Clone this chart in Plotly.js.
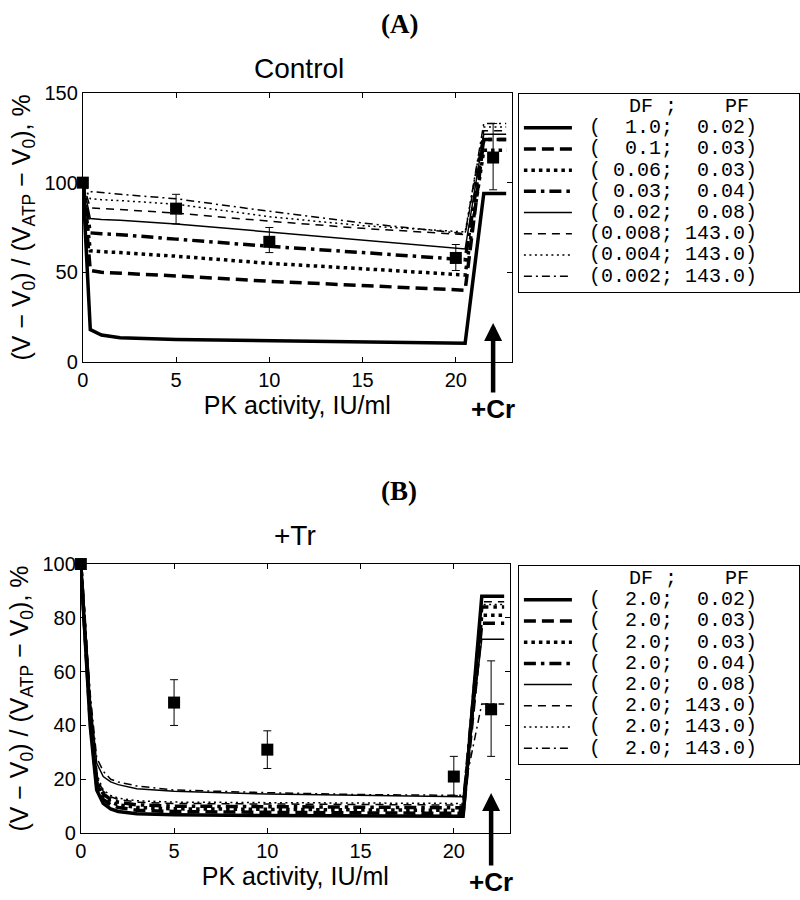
<!DOCTYPE html>
<html><head><meta charset="utf-8">
<script src="https://cdn.plot.ly/plotly-3.0.1.min.js"></script>
<style>html,body{margin:0;padding:0;background:#fff}#chart{width:800px;height:900px}</style>
</head><body><div id="chart"></div>
<script>
// ---------- data: panel A (Control) ----------
const xA = [0, 0.4, 1, 2, 5, 10, 15, 20.5, 21.5, 22.7];
const a1 = [100, 18, 15, 13.5, 12.5, 12, 11.5, 10.5, 94, 94];
const a2 = [100, 51, 50, 49.5, 48, 45, 42.5, 40, 124, 124];
const a3 = [100, 62, 61.5, 61, 59, 55, 52, 48.5, 118, 118];
const a4 = [100, 72, 71.5, 71, 68.5, 64.5, 61, 57, 124, 124];
const a5 = [100, 80, 79.5, 79, 77, 72.5, 68, 63, 127, 127];
const a6 = [100, 86, 85.5, 85, 83, 78.5, 74.5, 71, 129, 129];
const a7 = [100, 91, 90.5, 90, 88, 81, 76, 72.5, 131, 131];
const a8 = [100, 95, 94.5, 93.5, 91, 84, 77.5, 71.5, 133, 133];
const ptsAx = [0, 5, 10, 20, 22];
const ptsAy = [100, 85.5, 67, 58, 114];
const ptsAplus = [0, 8, 8, 7.5, 19];
const ptsAminus = [0, 8.5, 6, 7, 18];
const dfA = ["1.0", "0.1", "0.06", "0.03", "0.02", "0.008", "0.004", "0.002"];
const pfA = ["0.02", "0.03", "0.03", "0.04", "0.08", "143.0", "143.0", "143.0"];

// ---------- data: panel B (+Tr) ----------
const xB = [0, 0.5, 0.85, 1.2, 1.6, 2, 3, 5, 10, 15, 20.5, 21.5, 22.7];
const b1 = [100, 40, 16, 11, 9, 8, 7.2, 6.8, 6.5, 6.3, 6.2, 88, 88];
const b2 = [100, 42, 18, 12.5, 10.5, 9.5, 8.5, 8, 7.7, 7.5, 7.3, 78, 78];
const b3 = [100, 44, 19, 13.5, 11.5, 10.5, 9.5, 9, 8.8, 8.6, 8.4, 81, 81];
const b4 = [100, 45, 20, 14.5, 12.5, 11.5, 10.5, 10, 9.8, 9.6, 9.4, 84, 84];
const b5 = [100, 50, 26, 21, 19, 18, 16.5, 15.5, 14.5, 14, 13.5, 72, 72];
const b6 = [100, 46, 21, 15.5, 13.5, 12.5, 11.5, 11, 10.8, 10.6, 10.4, 86, 86];
const b7 = [100, 47, 22, 16, 14, 13, 12, 11.5, 11.3, 11.1, 11, 85, 85];
const b8 = [100, 52, 28, 23, 20, 19, 17.5, 16, 15, 14.3, 14, 48, 48];
const ptsBx = [0, 5, 10, 20, 22];
const ptsBy = [100, 48.5, 31, 21, 46];
const ptsBplus = [0, 8.5, 7, 7.5, 18];
const ptsBminus = [0, 8.5, 7, 7, 17.5];
const dfB = ["2.0", "2.0", "2.0", "2.0", "2.0", "2.0", "2.0", "2.0"];
const pfB = ["0.02", "0.03", "0.03", "0.04", "0.08", "143.0", "143.0", "143.0"];

const legTitle = "DF ;    PF";
const xTicks = [0, 5, 10, 15, 20];
const yTicksA = [0, 50, 100, 150];
const yTicksB = [0, 20, 40, 60, 80, 100];

// ---------- styles ----------
const styles = [
  {width: 3.5, dash: 'solid'},
  {width: 3.5, dash: '12px,6px'},
  {width: 3.5, dash: '3.5px,4px'},
  {width: 3.5, dash: '12px,5px,3.5px,5px'},
  {width: 1.5, dash: 'solid'},
  {width: 1.5, dash: '8px,6px'},
  {width: 1.5, dash: '2px,3.5px'},
  {width: 1.5, dash: '8px,4px,2px,4px'}
];
const NB = '\u00A0';
const big = s => '<span style="font-size:20px">' + s + '</span>';
const padL = (s, n) => NB.repeat(Math.max(0, n - s.length)) + s;
const label = (df, pf) => big(NB + '(' + padL(df, 5) + ';' + padL(pf, 6) + ')' + NB.repeat(3));
const seriesA = [a1, a2, a3, a4, a5, a6, a7, a8];
const seriesB = [b1, b2, b3, b4, b5, b6, b7, b8];

const traces = [];
seriesA.forEach((ys, i) => traces.push({
  x: xA, y: ys, xaxis: 'x', yaxis: 'y', type: 'scatter', mode: 'lines',
  name: label(dfA[i], pfA[i]), legend: 'legend',
  line: {color: '#000', width: styles[i].width, dash: styles[i].dash}
}));
traces.push({
  x: ptsAx, y: ptsAy, xaxis: 'x', yaxis: 'y', type: 'scatter', mode: 'markers',
  showlegend: false, cliponaxis: false,
  marker: {symbol: 'square', size: 12, color: '#000'},
  error_y: {type: 'data', symmetric: false, array: ptsAplus, arrayminus: ptsAminus,
            color: '#000', thickness: 1, width: 4}
});
seriesB.forEach((ys, i) => traces.push({
  x: xB, y: ys, xaxis: 'x2', yaxis: 'y2', type: 'scatter', mode: 'lines',
  name: label(dfB[i], pfB[i]), legend: 'legend2',
  line: {color: '#000', width: styles[i].width, dash: styles[i].dash}
}));
traces.push({
  x: ptsBx, y: ptsBy, xaxis: 'x2', yaxis: 'y2', type: 'scatter', mode: 'markers',
  showlegend: false, cliponaxis: false,
  marker: {symbol: 'square', size: 12, color: '#000'},
  error_y: {type: 'data', symmetric: false, array: ptsBplus, arrayminus: ptsBminus,
            color: '#000', thickness: 1, width: 4}
});

const SANS = 'Liberation Sans, Arial, sans-serif';
const MONO = 'Liberation Mono, Courier New, monospace';
const SERIF = 'Liberation Serif, Times New Roman, serif';
const tickFont = {family: SANS, size: 20, color: '#000'};
const titleFont = {family: SANS, size: 25, color: '#000'};
const axBase = {
  showline: true, linecolor: '#000', linewidth: 1, mirror: 'ticks',
  ticks: 'inside', ticklen: 5, tickwidth: 1, tickcolor: '#000',
  tickfont: tickFont, showgrid: false, zeroline: false, fixedrange: true
};
const yTitle = '(V \u2212 V<sub>0</sub>) / (V<sub>ATP</sub> \u2212 V<sub>0</sub>), %';

const legBase = {
  xanchor: 'left', yanchor: 'top', bgcolor: '#fff', bordercolor: '#000', borderwidth: 1,
  itemwidth: 48,
  font: {family: MONO, size: 14, color: '#000'},
  title: {text: big(NB.repeat(9) + legTitle.replace(/ /g, NB)), side: 'top',
          font: {family: MONO, size: 14, color: '#000'}},
  traceorder: 'normal', itemclick: false, itemdoubleclick: false
};

const arrowBase = {showarrow: true, arrowhead: 2, arrowsize: 0.8, arrowwidth: 4.5, arrowcolor: '#000',
  standoff: 0, ax: 0, text: '<b>+Cr</b>', font: {family: SANS, size: 26, color: '#000'}};

const layout = {
  width: 800, height: 900, margin: {l: 0, r: 0, t: 0, b: 0},
  paper_bgcolor: '#fff', plot_bgcolor: '#fff', showlegend: true,
  xaxis: Object.assign({}, axBase, {domain: [0.1038, 0.6413], range: [0, 23], tickvals: xTicks, anchor: 'y',
    title: {text: 'PK activity, IU/ml', font: titleFont, standoff: 6}}),
  yaxis: Object.assign({}, axBase, {domain: [0.5978, 0.8967], range: [0, 150], tickvals: yTicksA, anchor: 'x',
    title: {text: yTitle, font: titleFont, standoff: 6}}),
  xaxis2: Object.assign({}, axBase, {domain: [0.1013, 0.6388], range: [0, 23], tickvals: xTicks, anchor: 'y2',
    title: {text: 'PK activity, IU/ml', font: titleFont, standoff: 6}}),
  yaxis2: Object.assign({}, axBase, {domain: [0.0744, 0.3733], range: [0, 100], tickvals: yTicksB, anchor: 'x2',
    title: {text: yTitle, font: titleFont, standoff: 6}}),
  legend: Object.assign({}, legBase, {x: 0.649, y: 0.8967}),
  legend2: Object.assign({}, legBase, {x: 0.649, y: 0.3722}),
  annotations: [
    {xref: 'paper', yref: 'paper', x: 0.5, y: 1 - 24 / 900, yanchor: 'middle', text: '<b>(A)</b>', showarrow: false,
     font: {family: SERIF, size: 27, color: '#000'}},
    {xref: 'paper', yref: 'paper', x: 300 / 800, y: 1 - 68 / 900, yanchor: 'middle', text: 'Control', showarrow: false,
     font: {family: SANS, size: 28, color: '#000'}},
    {xref: 'paper', yref: 'paper', x: 0.5, y: 1 - 491 / 900, yanchor: 'middle', text: '<b>(B)</b>', showarrow: false,
     font: {family: SERIF, size: 27, color: '#000'}},
    {xref: 'paper', yref: 'paper', x: 296 / 800, y: 1 - 535 / 900, yanchor: 'middle', text: '+Tr', showarrow: false,
     font: {family: SANS, size: 28, color: '#000'}},
    Object.assign({}, arrowBase, {xref: 'x', yref: 'y', x: 22, y: 21.8, ay: 86}),
    Object.assign({}, arrowBase, {xref: 'x2', yref: 'y2', x: 22, y: 14.9, ay: 89})
  ]
};

Plotly.newPlot('chart', traces, layout, {displayModeBar: false, staticPlot: true});
</script></body></html>
